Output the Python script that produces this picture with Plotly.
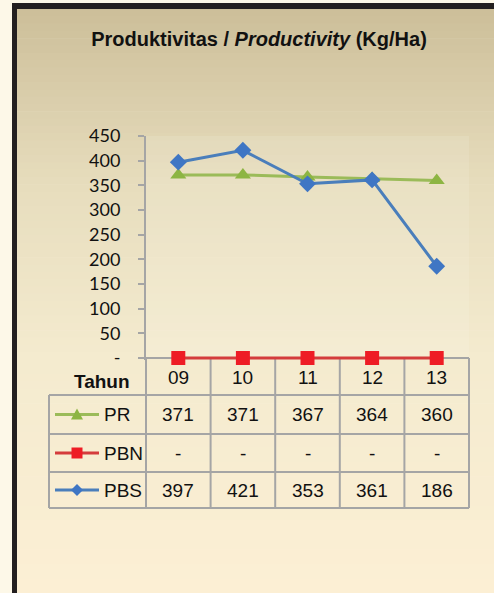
import plotly.graph_objects as go

# ---- data ----
years = ["09", "10", "11", "12", "13"]
pr = [371, 371, 367, 364, 360]
pbn = [0, 0, 0, 0, 0]
pbs = [397, 421, 353, 361, 186]
series_names = ["PR", "PBN", "PBS"]
y_tickvals = [0, 50, 100, 150, 200, 250, 300, 350, 400, 450]
y_ticktext = ["-", "50", "100", "150", "200", "250", "300", "350", "400", "450"]

W, H = 494, 593
L, R, T, B = 146, 469, 136, 360  # plot area in pixels (y=0 sits at pixel 358)
Y0PX = 358
y_top = 450
y_bottom = -(B - Y0PX) * y_top / (Y0PX - T)


def px(x):
    return (x - L) / (R - L)


def py(y):
    return (B - y) / (B - T)


FONT = "Liberation Sans, Arial, sans-serif"
colors = {
    "PR": ("#9bbb59", "#8db543", "triangle-up"),
    "PBN": ("#d43c3c", "#ee1c25", "square"),
    "PBS": ("#4a7ebb", "#3f76c4", "diamond"),
}
values = {"PR": pr, "PBN": pbn, "PBS": pbs}

fig = go.Figure()

for name in series_names:
    lc, mc, sym = colors[name]
    fig.add_trace(go.Scatter(
        x=years, y=values[name], mode="lines+markers", name=name,
        line=dict(color=lc, width=3),
        marker=dict(symbol=sym, color=mc, size=14 if sym != "diamond" else 13),
        cliponaxis=False, showlegend=False,
    ))

shapes = []
stops = [(0.0, (205, 191, 154)), (0.3, (231, 221, 189)), (0.6, (244, 235, 207)), (1.0, (252, 239, 212))]


def col_at(t):
    for (t0, c0), (t1, c1) in zip(stops[:-1], stops[1:]):
        if t <= t1:
            f = (t - t0) / (t1 - t0)
            return tuple(round(a + (b - a) * f) for a, b in zip(c0, c1))
    return stops[-1][1]


N = 80
top, bot = 9, H
for i in range(N):
    y0 = top + (bot - top) * i / N
    y1 = top + (bot - top) * (i + 1) / N + 0.6
    c = col_at(i / (N - 1))
    shapes.append(dict(type="rect", xref="paper", yref="paper", layer="below",
                       x0=px(17), x1=px(W), y0=py(y0), y1=py(y1),
                       line=dict(width=0), fillcolor="rgb(%d,%d,%d)" % c))
shapes.append(dict(type="rect", xref="paper", yref="paper", layer="below",
                   x0=0, x1=1, y0=py(Y0PX), y1=1, line=dict(width=0),
                   fillcolor="rgba(255,255,245,0.12)"))
shapes.append(dict(type="rect", xref="paper", yref="paper", layer="below",
                   x0=px(12), x1=px(17), y0=py(3), y1=py(H), line=dict(width=0), fillcolor="#231f20"))
shapes.append(dict(type="rect", xref="paper", yref="paper", layer="below",
                   x0=px(12), x1=px(W), y0=py(3), y1=py(9), line=dict(width=0), fillcolor="#231f20"))

grid = "#a5a5a5"
row_lines = [395, 434, 472, 508]
for yy in row_lines:
    shapes.append(dict(type="line", xref="paper", yref="paper", layer="below", x0=px(49), x1=1,
                       y0=py(yy), y1=py(yy), line=dict(color=grid, width=2)))
shapes.append(dict(type="line", xref="paper", yref="paper", layer="below", x0=px(49), x1=px(49),
                   y0=py(395), y1=py(508), line=dict(color=grid, width=2)))
n = len(years)
for k in range(n + 1):
    shapes.append(dict(type="line", xref="paper", yref="paper", layer="below", x0=k / n, x1=k / n,
                       y0=py(Y0PX), y1=py(508), line=dict(color=grid, width=2)))

annotations = []
TS = 19
annotations.append(dict(text="<b>Tahun</b>", xref="paper", yref="paper", x=px(132), y=py(381),
                        xanchor="right", yanchor="middle", showarrow=False,
                        font=dict(family=FONT, size=TS, color="#111")))
for i, yr in enumerate(years):
    annotations.append(dict(text=yr, xref="paper", yref="paper", x=(i + 0.5) / n, y=py(377),
                            xanchor="center", yanchor="middle", showarrow=False,
                            font=dict(family=FONT, size=TS, color="#111")))
row_centers = [(395 + 434) / 2, (434 + 472) / 2, (472 + 508) / 2]
for r, name in enumerate(series_names):
    yc = row_centers[r]
    annotations.append(dict(text=name, xref="paper", yref="paper", x=px(102), y=py(yc),
                            xanchor="left", yanchor="middle", showarrow=False,
                            font=dict(family=FONT, size=TS, color="#111")))
    for i, v in enumerate(values[name]):
        annotations.append(dict(text="-" if v == 0 else str(v), xref="paper", yref="paper",
                                x=(i + 0.5) / n, y=py(yc), xanchor="center", yanchor="middle",
                                showarrow=False, font=dict(family=FONT, size=TS, color="#111")))
    lc, mc, sym = colors[name]
    shapes.append(dict(type="line", xref="paper", yref="paper", x0=px(55), x1=px(99),
                       y0=py(yc), y1=py(yc), line=dict(color=lc, width=3)))
    cx = 77
    if sym == "triangle-up":
        pts = [(cx - 6, yc + 5), (cx + 6, yc + 5), (cx, yc - 6)]
    elif sym == "square":
        pts = [(cx - 5.5, yc - 5.5), (cx + 5.5, yc - 5.5), (cx + 5.5, yc + 5.5), (cx - 5.5, yc + 5.5)]
    else:
        pts = [(cx, yc - 6), (cx + 6, yc), (cx, yc + 6), (cx - 6, yc)]
    path = "M " + " L ".join("%.5f,%.5f" % (px(a), py(b)) for a, b in pts) + " Z"
    shapes.append(dict(type="path", xref="paper", yref="paper", path=path,
                       fillcolor=mc, line=dict(width=0)))

fig.update_layout(
    width=W, height=H,
    margin=dict(l=L, r=W - R, t=T, b=H - B, pad=0),
    paper_bgcolor="#fdf8e8",
    plot_bgcolor="rgba(0,0,0,0)",
    title=dict(text="<b>Produktivitas / <i>Productivity</i> (Kg/Ha)</b>",
               x=259 / W, xanchor="center", y=1 - 39 / H, yanchor="middle",
               font=dict(family=FONT, size=20, color="#111")),
    xaxis=dict(type="category", range=[-0.5, 4.5], showticklabels=False, ticks="",
               showgrid=False, zeroline=False, showline=False),
    yaxis=dict(range=[y_bottom, y_top], tickvals=y_tickvals, ticktext=y_ticktext, ticks="outside",
               ticklen=6, tickwidth=2, tickcolor=grid, showgrid=False,
               zeroline=True, zerolinecolor=grid, zerolinewidth=2,
               showline=True, linecolor=grid, linewidth=2, layer="below traces",
               tickfont=dict(family="Lato, Liberation Sans, sans-serif", size=18, color="#111"),
               ticklabelstandoff=14),
    shapes=shapes,
    annotations=annotations,
)

fig.write_html("out.html", config={"displayModeBar": False},
               post_script="document.body.style.margin='0';")
